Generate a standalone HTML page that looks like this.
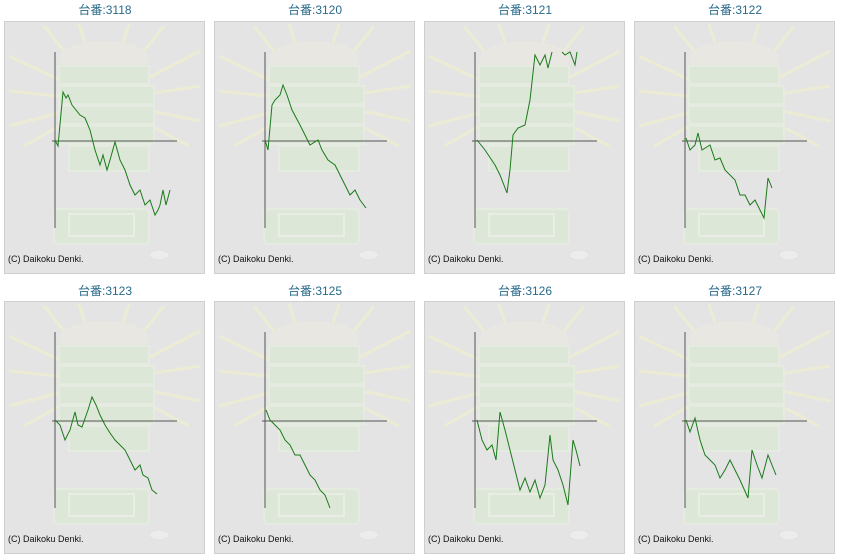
<!DOCTYPE html>
<html><head><meta charset="utf-8"><style>
body{margin:0;background:#fff;width:841px;height:558px;overflow:hidden;font-family:"Liberation Sans","Noto Sans CJK JP",sans-serif}
svg{position:absolute;left:0;top:0}
</style></head><body>
<svg width="841" height="558" viewBox="0 0 841 558">
<defs>
<g id="bg">
<rect x="0.5" y="0.5" width="200" height="252" fill="#e4e4e4" stroke="#cfcfcf"/>
<g opacity="0.55">
<g stroke="#f4f2c8" stroke-width="3">
<line x1="100" y1="80" x2="5" y2="35"/><line x1="100" y1="80" x2="5" y2="70"/><line x1="100" y1="80" x2="5" y2="105"/><line x1="100" y1="80" x2="20" y2="125"/>
<line x1="100" y1="80" x2="196" y2="30"/><line x1="100" y1="80" x2="196" y2="65"/><line x1="100" y1="80" x2="196" y2="100"/><line x1="100" y1="80" x2="185" y2="125"/>
<line x1="100" y1="80" x2="40" y2="5"/><line x1="100" y1="80" x2="160" y2="5"/><line x1="100" y1="80" x2="75" y2="3"/><line x1="100" y1="80" x2="125" y2="3"/>
</g>
<ellipse cx="100" cy="38" rx="45" ry="18" fill="#eeeae0"/>
<g fill="#d9ebcf" stroke="#e6f2de" stroke-width="2">
<rect x="55" y="45" width="90" height="18"/><rect x="55" y="65" width="95" height="18"/><rect x="55" y="85" width="95" height="18"/><rect x="55" y="105" width="95" height="18"/><rect x="65" y="125" width="80" height="25"/>
<rect x="50" y="188" width="95" height="35" rx="4"/>
</g>
<rect x="65" y="193" width="65" height="22" fill="none" stroke="#eef6e8" stroke-width="2"/>
<ellipse cx="155" cy="234" rx="10" ry="5" fill="#f4f4f4" stroke="#ddd"/>
</g>
<line x1="51" y1="31" x2="51" y2="207" stroke="#555" stroke-width="1"/>
<line x1="48" y1="120" x2="173" y2="120" stroke="#555" stroke-width="1"/>
<text x="4" y="241" font-size="9" fill="#111">(C) Daikoku Denki.</text>
</g>
</defs>
<g font-size="12" fill="#2a6a8a" text-anchor="middle">
<text x="105" y="14">台番:3118</text><text x="315" y="14">台番:3120</text><text x="525" y="14">台番:3121</text><text x="735" y="14">台番:3122</text>
<text x="105" y="295">台番:3123</text><text x="315" y="295">台番:3125</text><text x="525" y="295">台番:3126</text><text x="735" y="295">台番:3127</text>
</g>
<use href="#bg" x="4" y="21"/><use href="#bg" x="214" y="21"/><use href="#bg" x="424" y="21"/><use href="#bg" x="634" y="21"/>
<use href="#bg" x="4" y="301"/><use href="#bg" x="214" y="301"/><use href="#bg" x="424" y="301"/><use href="#bg" x="634" y="301"/>
<g fill="none" stroke="#1a7a1a" stroke-width="1">
<polyline points="55,140 58,146 63,92 66,98 68,95 72,105 80,115 85,118 90,130 95,150 100,165 103,155 107,170 110,160 115,142 120,160 125,170 130,185 135,195 140,190 145,205 150,200 155,215 158,210 160,205 163,190 166,205 170,190"/>
<polyline points="265,140 268,150 272,105 275,100 280,95 283,85 287,95 292,110 300,125 305,135 310,145 318,140 322,150 328,160 335,165 340,175 345,185 350,195 355,190 360,200 366,208"/>
<polyline points="477,140 485,150 495,165 500,175 507,193 510,170 513,135 518,128 525,125 530,100 535,55 540,65 545,55 548,68 552,52"/>
<polyline points="562,52 565,55 570,52 575,65 577,52"/>
<polyline points="686,138 690,150 695,145 698,133 702,150 710,145 715,160 720,158 725,170 735,180 740,195 745,195 750,205 755,200 760,210 764,218 768,178 772,188"/>
<polyline points="55,420 60,425 65,440 70,430 75,412 78,425 82,427 88,410 92,397 96,405 100,415 105,425 110,433 115,440 120,445 125,450 130,460 135,470 140,465 143,475 148,478 152,490 157,494"/>
<polyline points="266,410 270,420 275,425 280,430 285,440 290,445 295,455 300,455 305,465 310,475 315,480 320,490 325,495 330,508"/>
<polyline points="477,420 482,440 487,450 492,445 496,460 500,412 505,430 510,450 515,470 520,490 525,478 530,492 535,480 540,498 545,485 550,435 553,460 558,470 563,485 568,505 573,440 576,450 580,466"/>
<polyline points="686,420 690,432 695,418 700,440 705,455 710,460 715,465 720,478 725,470 730,460 735,470 740,480 748,498 752,450 757,465 762,478 768,455 772,465 776,475"/>
</g>
</svg>
</body></html>
